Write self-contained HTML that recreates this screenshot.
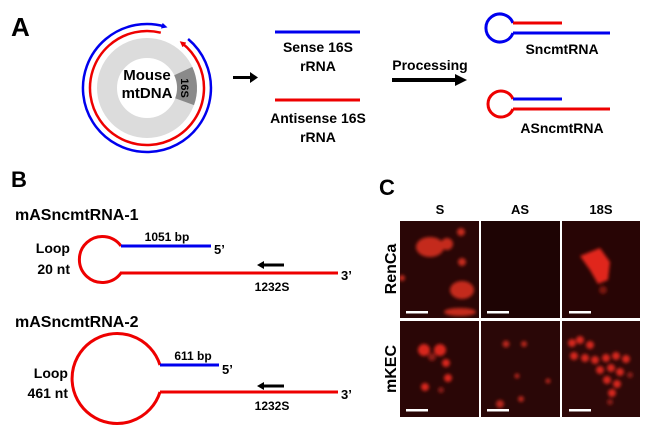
<!DOCTYPE html>
<html><head><meta charset="utf-8"><style>
html,body{margin:0;padding:0;background:#fff;}
svg{display:block;font-family:"Liberation Sans",Arial,sans-serif;font-weight:bold;}
</style></head><body>
<svg width="650" height="432" viewBox="0 0 650 432" xmlns="http://www.w3.org/2000/svg">
<defs>
<marker id="ab" markerWidth="6" markerHeight="6" refX="3" refY="3" orient="auto" markerUnits="userSpaceOnUse"><path d="M0,0 L6,3 L0,6 z" fill="#0000ee"/></marker>
<marker id="ar" markerWidth="6" markerHeight="6" refX="3" refY="3" orient="auto" markerUnits="userSpaceOnUse"><path d="M0,0 L6,3 L0,6 z" fill="#ee0000"/></marker>
<filter id="bl" x="-50%" y="-50%" width="200%" height="200%"><feGaussianBlur stdDeviation="1.5"/></filter>
<clipPath id="c1"><rect x="400" y="221" width="79" height="97"/></clipPath>
<clipPath id="c2"><rect x="481" y="221" width="79" height="97"/></clipPath>
<clipPath id="c3"><rect x="562" y="221" width="78" height="97"/></clipPath>
<clipPath id="c4"><rect x="400" y="321" width="79" height="96"/></clipPath>
<clipPath id="c5"><rect x="481" y="321" width="79" height="96"/></clipPath>
<clipPath id="c6"><rect x="562" y="321" width="78" height="96"/></clipPath>
</defs>

<!-- Panel A -->
<text x="11" y="36" font-size="26">A</text>
<circle cx="147" cy="88" r="40" fill="none" stroke="#dcdcdc" stroke-width="20"/>
<path d="M192.3,66.9 A50,50 0 0 1 194,105.1 L175.2,98.3 A30,30 0 0 0 174.2,75.3 Z" fill="#8a8a8a"/>
<text x="147" y="80" font-size="15" text-anchor="middle">Mouse</text>
<text x="147" y="98" font-size="15" text-anchor="middle">mtDNA</text>
<text transform="translate(181,88) rotate(90)" font-size="11" text-anchor="middle">16S</text>
<path d="M188.1,39 A64,64 0 1 1 164.6,26.5" fill="none" stroke="#0000ee" stroke-width="2.5" marker-end="url(#ab)"/>
<path d="M160.8,32.7 A57,57 0 1 0 182.1,43.1" fill="none" stroke="#ee0000" stroke-width="2.5" marker-end="url(#ar)"/>
<path d="M233,76 L250,76 L250,72 L258,77.5 L250,83 L250,79 L233,79 Z" fill="#000"/>

<line x1="275" y1="32" x2="360" y2="32" stroke="#0000ee" stroke-width="3"/>
<text x="318" y="52" font-size="14" text-anchor="middle">Sense 16S</text>
<text x="318" y="71" font-size="14" text-anchor="middle">rRNA</text>
<line x1="275" y1="100" x2="360" y2="100" stroke="#ee0000" stroke-width="3"/>
<text x="318" y="123" font-size="14" text-anchor="middle">Antisense 16S</text>
<text x="318" y="142" font-size="14" text-anchor="middle">rRNA</text>
<text x="430" y="70" font-size="14" text-anchor="middle">Processing</text>
<path d="M392,78 L455,78 L455,74 L467,80 L455,86 L455,82 L392,82 Z" fill="#000"/>

<path d="M513,23 A14,14 0 1 0 513,33" fill="none" stroke="#0000ee" stroke-width="3"/>
<line x1="513" y1="23" x2="562" y2="23" stroke="#ee0000" stroke-width="3"/>
<line x1="513" y1="33" x2="610" y2="33" stroke="#0000ee" stroke-width="3"/>
<text x="562" y="54" font-size="14" text-anchor="middle">SncmtRNA</text>
<path d="M513,99 A13,13 0 1 0 513,109" fill="none" stroke="#ee0000" stroke-width="3"/>
<line x1="513" y1="99" x2="562" y2="99" stroke="#0000ee" stroke-width="3"/>
<line x1="513" y1="109" x2="610" y2="109" stroke="#ee0000" stroke-width="3"/>
<text x="562" y="133" font-size="14" text-anchor="middle">ASncmtRNA</text>

<!-- Panel B -->
<text x="11" y="187" font-size="22">B</text>
<text x="15" y="220" font-size="16">mASncmtRNA-1</text>
<path d="M121,246 A23,23 0 1 0 121,273" fill="none" stroke="#ee0000" stroke-width="3"/>
<line x1="121" y1="246" x2="211" y2="246" stroke="#0000ee" stroke-width="3"/>
<line x1="120" y1="273" x2="338" y2="273" stroke="#ee0000" stroke-width="3"/>
<text x="167" y="241" font-size="12" text-anchor="middle">1051 bp</text>
<text x="214" y="254" font-size="13">5’</text>
<text x="341" y="280" font-size="13">3’</text>
<path d="M257,265 L264,261 L264,263.5 L284,263.5 L284,266.5 L264,266.5 L264,269 Z" fill="#000"/>
<text x="272" y="291" font-size="12" text-anchor="middle">1232S</text>
<text x="70" y="253" font-size="14" text-anchor="end">Loop</text>
<text x="70" y="274" font-size="14" text-anchor="end">20 nt</text>

<text x="15" y="327" font-size="16">mASncmtRNA-2</text>
<path d="M160,365 A45,45 0 1 0 160,392" fill="none" stroke="#ee0000" stroke-width="3"/>
<line x1="160" y1="365" x2="219" y2="365" stroke="#0000ee" stroke-width="3"/>
<line x1="160" y1="392" x2="338" y2="392" stroke="#ee0000" stroke-width="3"/>
<text x="193" y="360" font-size="12" text-anchor="middle">611 bp</text>
<text x="222" y="374" font-size="13">5’</text>
<text x="341" y="399" font-size="13">3’</text>
<path d="M257,386 L264,382 L264,384.5 L284,384.5 L284,387.5 L264,387.5 L264,390 Z" fill="#000"/>
<text x="272" y="410" font-size="12" text-anchor="middle">1232S</text>
<text x="68" y="378" font-size="14" text-anchor="end">Loop</text>
<text x="68" y="398" font-size="14" text-anchor="end">461 nt</text>

<!-- Panel C -->
<text x="379" y="195" font-size="22">C</text>
<text x="440" y="214" font-size="13" text-anchor="middle">S</text>
<text x="520" y="214" font-size="13" text-anchor="middle">AS</text>
<text x="601" y="214" font-size="13" text-anchor="middle">18S</text>
<text transform="translate(396,269) rotate(-90)" font-size="16" text-anchor="middle">RenCa</text>
<text transform="translate(396,369) rotate(-90)" font-size="16" text-anchor="middle">mKEC</text>

<rect x="400" y="221" width="79" height="97" fill="#2a0606"/>
<rect x="481" y="221" width="79" height="97" fill="#1e0404"/>
<rect x="562" y="221" width="78" height="97" fill="#280505"/>
<rect x="400" y="321" width="79" height="96" fill="#2a0606"/>
<rect x="481" y="321" width="79" height="96" fill="#2a0707"/>
<rect x="562" y="321" width="78" height="96" fill="#2e0808"/>

<g clip-path="url(#c1)" filter="url(#bl)" fill="#c42a1e">
<ellipse cx="430" cy="247" rx="14" ry="10"/><circle cx="447" cy="244" r="6"/><circle cx="461" cy="232" r="4"/>
<circle cx="462" cy="262" r="4"/><ellipse cx="462" cy="290" rx="12" ry="9"/><circle cx="402" cy="278" r="3"/>
<ellipse cx="460" cy="312" rx="16" ry="4"/>
</g>
<g clip-path="url(#c3)" filter="url(#bl)" fill="#e0261c">
<path d="M580,256 L600,248 L610,262 L608,280 L598,284 L590,270 Z"/><circle cx="603" cy="290" r="4" fill="#7a1510"/>
</g>
<g clip-path="url(#c4)" filter="url(#bl)" fill="#d8261c">
<circle cx="424" cy="350" r="6"/><circle cx="440" cy="350" r="6"/><circle cx="446" cy="363" r="4"/>
<circle cx="448" cy="378" r="4"/><circle cx="425" cy="387" r="4"/><circle cx="441" cy="390" r="3" fill="#8a1a14"/>
<circle cx="432" cy="357" r="4" fill="#8a1a14"/>
</g>
<g clip-path="url(#c5)" filter="url(#bl)" fill="#b8261c">
<circle cx="506" cy="344" r="3.5"/><circle cx="524" cy="344" r="3"/><circle cx="517" cy="376" r="2.5"/>
<circle cx="548" cy="381" r="2.5"/><circle cx="500" cy="404" r="4"/><circle cx="521" cy="399" r="3"/>
</g>
<g clip-path="url(#c6)" filter="url(#bl)" fill="#d6281e">
<circle cx="572" cy="343" r="4"/><circle cx="580" cy="340" r="4"/><circle cx="590" cy="345" r="4"/>
<circle cx="574" cy="356" r="4"/><circle cx="585" cy="358" r="4"/><circle cx="595" cy="360" r="4"/>
<circle cx="606" cy="358" r="4"/><circle cx="616" cy="356" r="4"/><circle cx="626" cy="359" r="4"/>
<circle cx="600" cy="370" r="4"/><circle cx="611" cy="368" r="4"/><circle cx="620" cy="372" r="4"/>
<circle cx="607" cy="380" r="4"/><circle cx="617" cy="384" r="4"/><circle cx="612" cy="393" r="4"/>
<circle cx="630" cy="375" r="3" fill="#8a1a14"/><circle cx="610" cy="402" r="3" fill="#8a1a14"/>
</g>

<g fill="#fff">
<rect x="406" y="311" width="22" height="2.5"/><rect x="487" y="311" width="22" height="2.5"/><rect x="569" y="311" width="22" height="2.5"/>
<rect x="406" y="409" width="22" height="2.5"/><rect x="487" y="409" width="22" height="2.5"/><rect x="569" y="409" width="22" height="2.5"/>
</g>
</svg>
</body></html>
